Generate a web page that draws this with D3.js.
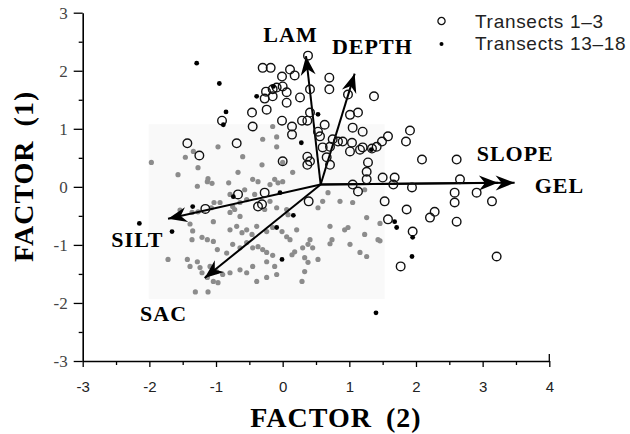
<!DOCTYPE html>
<html>
<head>
<meta charset="utf-8">
<script src="https://cdn.jsdelivr.net/npm/d3@7/dist/d3.min.js"></script>
<style>
  body { margin: 0; background: #fff; }
</style>
</head>
<body>
<div id="chrt"></div>
<script>
// axis ticks
const xTicks = [-3, -2, -1, 0, 1, 2, 3, 4];
const yTicks = [-3, -2, -1, 0, 1, 2, 3];
const xMinorTicks = [-2.5, -1.5, -0.5, 0.5, 1.5, 2.5, 3.5];
const yMinorTicks = [-2.5, -1.5, -0.5, 0.5, 1.5, 2.5];

// sample scores [factor2, factor1]
const transects1to3 = [
  [0.38, 2.26], [-0.30, 2.05], [-0.18, 2.05], [-0.01, 1.90], [0.11, 2.02], [0.18, 1.92], [0.00, 1.73],
  [-0.25, 1.64], [-0.15, 1.68], [-0.27, 1.52], [-0.15, 1.56], [0.06, 1.63], [0.26, 1.54], [-0.24, 1.33],
  [0.06, 1.45], [0.41, 1.68], [-0.46, 1.28], [-0.01, 1.14], [0.29, 1.14], [0.37, 1.14], [0.41, 1.28],
  [-0.45, 1.04], [0.14, 1.04], [0.14, 0.90], [-0.91, 1.14], [-0.69, 0.75], [-1.43, 0.75], [-1.25, 0.54],
  [0.37, 0.52], [0.37, 0.38], [0.53, 0.95], [-0.67, -0.13], [-0.27, -0.10], [-1.16, -0.38], [0.39, -0.25],
  [0.70, 1.88], [0.70, 1.68], [1.37, 1.56], [0.98, 1.59], [1.01, 1.24], [1.13, 1.28], [0.63, 1.07],
  [1.05, 1.02], [1.20, 0.95], [1.91, 0.97], [1.85, 0.78], [1.58, 0.87], [1.49, 0.78], [1.41, 0.69],
  [0.83, 0.78], [0.90, 0.78], [1.04, 0.76], [1.20, 0.68], [1.34, 0.66], [2.09, 0.47], [2.61, 0.47],
  [1.28, 0.42], [1.26, 0.26], [1.26, 0.13], [1.50, 0.16], [1.68, 0.16], [1.94, -0.01], [2.66, 0.13],
  [2.58, -0.10], [2.58, -0.27], [2.91, -0.10], [3.14, -0.25], [1.53, -0.25], [1.86, -0.39], [2.28, -0.43],
  [2.21, -0.53], [2.61, -0.60], [1.58, -0.56], [1.95, -0.77], [3.21, -1.20], [1.77, -1.37], [1.66, 0.04],
  [1.05, 0.04], [1.13, -0.08], [0.56, 0.87], [0.75, 0.82], [0.60, 0.68], [0.71, 0.69], [1.01, 0.61],
  [1.16, 0.64], [0.00, 0.44], [0.41, 0.44], [0.66, 0.51], [-0.09, 1.71], [0.71, 0.38], [-0.37, -0.34],
  [-0.31, -0.30]
];
const transects13to18 = [
  [-1.29, 2.13], [-0.95, 1.78], [-0.39, 1.56], [-0.85, 1.29], [-0.89, 1.07], [-0.14, 1.73], [0.53, 1.25],
  [0.28, 0.76], [1.33, 0.64], [-0.04, -0.10], [0.16, -0.49], [-0.09, -0.70], [-0.01, -1.25], [-2.15, -0.63],
  [-1.35, -0.34], [-1.66, -0.77], [1.68, -0.60], [1.71, -0.70], [1.95, -0.87], [1.94, -1.20], [1.40, -2.17],
  [-0.74, -0.17]
];
const otherTransects = [
  [-1.97, 0.42], [-1.57, 0.21], [-1.46, 0.51], [-1.34, 0.61], [-1.27, 0.33], [-1.13, 0.09], [-1.06, 0.06],
  [-1.12, 0.14], [-0.97, 0.69], [-0.81, 0.07], [-0.67, 0.25], [-0.60, 0.52], [-0.45, 0.13], [-0.37, 0.09],
  [-0.15, 1.04], [-0.09, 0.86], [-0.09, 0.69], [0.00, 0.42], [0.00, 0.09], [0.15, 0.25], [-0.12, 0.13],
  [-1.28, 0.01], [-1.03, -0.27], [-0.94, -0.27], [-1.07, -0.36], [-0.75, -0.34], [-0.64, -0.27], [-0.54, -0.22],
  [-1.36, -0.44], [-1.27, -0.43], [-0.79, -0.44], [-0.72, -0.39], [-0.64, -0.51], [-1.39, -0.64], [-1.35, -0.76],
  [-1.04, -0.60], [-0.79, -0.74], [-0.69, -0.68], [-0.61, -0.79], [-0.54, -0.74], [-0.46, -0.82], [-0.39, -0.68],
  [-1.36, -0.91], [-1.21, -0.87], [-1.13, -0.91], [-1.04, -0.94], [-0.98, -1.08], [-0.75, -0.99], [-0.64, -1.05],
  [-0.84, -1.14], [-0.54, -0.96], [-0.45, -1.05], [-1.72, -1.25], [-1.43, -1.25], [-1.39, -1.37], [-1.28, -1.29],
  [-1.24, -1.39], [-1.21, -1.48], [-1.09, -1.37], [-0.99, -1.46], [-0.90, -1.51], [-0.79, -1.48], [-0.64, -1.43],
  [-0.54, -1.48], [-0.45, -1.37], [-1.13, -1.56], [-1.04, -1.63], [-0.97, -1.65], [-1.31, -1.81], [-1.12, -1.81],
  [-0.37, -1.03], [-0.19, 0.04], [-0.07, 0.07], [-0.19, -0.25], [-0.09, -0.36], [-0.27, -0.39], [0.06, -0.39],
  [0.08, -0.48], [0.68, -0.10], [0.86, -0.25], [1.05, -0.27], [0.60, -0.25], [0.53, -0.36], [1.26, -0.53],
  [0.71, -0.68], [0.93, -0.74], [0.98, -0.70], [1.23, -0.82], [1.43, -0.91], [-0.24, -0.77], [-0.15, -0.70],
  [-0.01, -0.77], [0.21, -0.74], [0.06, -0.86], [0.11, -0.91], [0.41, -0.91], [0.38, -0.99], [0.74, -0.91],
  [0.71, -0.98], [1.01, -0.99], [0.30, -1.05], [0.45, -1.05], [-0.30, -1.08], [-0.24, -1.13], [-0.15, -1.18],
  [0.14, -1.17], [0.18, -1.12], [0.33, -1.22], [0.38, -1.30], [0.53, -1.25], [1.16, -1.13], [1.26, -1.20],
  [-0.24, -1.29], [-0.12, -1.37], [-0.24, -1.56], [-0.09, -1.51], [0.33, -1.46], [0.29, -1.63], [1.23, -0.05],
  [1.46, -0.63], [1.46, -0.93], [-0.39, -1.63], [-0.79, -0.13], [-0.57, -0.05], [-1.54, -0.40], [-0.42, -0.13],
  [-0.31, 0.38], [-0.30, 0.82]
];

// environmental vectors
const vectorOrigin = [0.57, 0.04];
const vectorNames = ['LAM', 'DEPTH', 'SLOPE', 'GEL', 'SILT', 'SAC'];
const vectorEnds = [[0.35, 2.25], [1.08, 1.95], [3.23, 0.07], [3.48, 0.07], [-1.72, -0.55], [-1.17, -1.57]];
const vectorLabelAt = [[-0.29, 2.49], [0.74, 2.28], [2.91, 0.44], [3.78, -0.10], [-2.57, -1.03], [-2.14, -2.31]];

const legendNames = ['Transects 1\u20133', 'Transects 13\u201318'];

const width = 630, height = 434;
const margin = { left: 82.7, right: 80.7, top: 12.7, bottom: 73 };
const serif = '"Liberation Serif", "Times New Roman", serif';
const sans = '"Liberation Sans", Arial, sans-serif';

const scaleX = d3.scaleLinear().domain([-3, 4]).range([margin.left, width - margin.right]);
const scaleY = d3.scaleLinear().domain([-3, 3]).range([height - margin.bottom, margin.top]);

const svg = d3.select('#chrt').append('svg')
    .attr('width', width)
    .attr('height', height)
    .style('display', 'block');

// faint scanned background patch
svg.append('rect')
    .attr('x', scaleX(-2.01))
    .attr('y', scaleY(1.08))
    .attr('width', scaleX(1.53) - scaleX(-2.01))
    .attr('height', scaleY(-1.93) - scaleY(1.08))
    .attr('fill', '#f9f9f9');

// axes
const xAxisG = svg.append('g')
    .attr('transform', 'translate(0,' + scaleY(-3) + ')')
    .call(d3.axisBottom(scaleX).tickValues(xTicks).tickSize(6).tickSizeOuter(0).tickFormat((d) => String(d)));
xAxisG.append('g').call(d3.axisBottom(scaleX).tickValues(xMinorTicks).tickSize(4).tickFormat(''))
    .select('.domain').remove();
xAxisG.selectAll('.tick text')
    .attr('y', 31).attr('dy', 0)
    .style('font-family', sans).style('font-size', '15px').style('fill', '#222');
xAxisG.append('line')
    .attr('x1', scaleX(4)).attr('x2', scaleX(4))
    .attr('y1', -7).attr('y2', 0)
    .attr('stroke', '#000').attr('stroke-width', 1.3);

const yAxisG = svg.append('g')
    .attr('transform', 'translate(' + scaleX(-3) + ',0)')
    .call(d3.axisLeft(scaleY).tickValues(yTicks).tickSize(9).tickSizeOuter(0).tickFormat((d) => String(d)));
yAxisG.append('g').call(d3.axisLeft(scaleY).tickValues(yMinorTicks).tickSize(4).tickFormat(''))
    .select('.domain').remove();
yAxisG.selectAll('.tick text')
    .attr('x', -15).attr('dy', '0.34em')
    .style('font-family', serif).style('font-size', '17px').style('fill', '#444');

svg.selectAll('.domain').attr('stroke', '#000').attr('stroke-width', 1.6);
svg.selectAll('.tick line').attr('stroke', '#000').attr('stroke-width', 1.3);

// axis titles
svg.append('text')
    .attr('x', scaleX(0.8))
    .attr('y', 427)
    .attr('text-anchor', 'middle')
    .style('font-family', serif).style('font-weight', 'bold').style('font-size', '28px')
    .style('letter-spacing', '1px').style('word-spacing', '6px')
    .text('FACTOR (2)');
svg.append('text')
    .attr('transform', 'translate(33,' + scaleY(0.18) + ') rotate(-90)')
    .attr('text-anchor', 'middle')
    .style('font-family', serif).style('font-weight', 'bold').style('font-size', '28px')
    .style('letter-spacing', '1px').style('word-spacing', '6px')
    .text('FACTOR (1)');

// gray points (unlisted transects)
svg.append('g').selectAll('circle')
    .data(otherTransects)
    .enter().append('circle')
    .attr('cx', (d) => scaleX(d[0]))
    .attr('cy', (d) => scaleY(d[1]))
    .attr('r', 2.6)
    .attr('fill', '#8c8c8c');

// arrow head
svg.append('defs').append('marker')
    .attr('id', 'arrowHead')
    .attr('viewBox', '-20 -8 21 16')
    .attr('refX', 0).attr('refY', 0)
    .attr('markerUnits', 'userSpaceOnUse')
    .attr('markerWidth', 21).attr('markerHeight', 16)
    .attr('orient', 'auto')
    .append('path')
    .attr('d', 'M0,0L-19,-7.5L-13,0L-19,7.5Z')
    .attr('fill', '#000');

svg.append('g').selectAll('line')
    .data(vectorEnds)
    .enter().append('line')
    .attr('x1', scaleX(vectorOrigin[0]))
    .attr('y1', scaleY(vectorOrigin[1]))
    .attr('x2', (d) => scaleX(d[0]))
    .attr('y2', (d) => scaleY(d[1]))
    .attr('stroke', '#000')
    .attr('stroke-width', 2)
    .attr('marker-end', 'url(#arrowHead)');

svg.append('g').selectAll('text')
    .data(vectorNames)
    .enter().append('text')
    .attr('x', (d, i) => scaleX(vectorLabelAt[i][0]))
    .attr('y', (d, i) => scaleY(vectorLabelAt[i][1]))
    .style('font-family', serif).style('font-weight', 'bold').style('font-size', '22px')
    .style('letter-spacing', '1px')
    .text((d) => d);

// transects 1-3: open circles
svg.append('g').selectAll('circle')
    .data(transects1to3)
    .enter().append('circle')
    .attr('cx', (d) => scaleX(d[0]))
    .attr('cy', (d) => scaleY(d[1]))
    .attr('r', 4.3)
    .attr('fill', 'none')
    .attr('stroke', '#111')
    .attr('stroke-width', 1.4);

// transects 13-18: small black dots
svg.append('g').selectAll('circle')
    .data(transects13to18)
    .enter().append('circle')
    .attr('cx', (d) => scaleX(d[0]))
    .attr('cy', (d) => scaleY(d[1]))
    .attr('r', 2.4)
    .attr('fill', '#000');

// legend
const legend = svg.append('g').attr('transform', 'translate(441.5,21)');
legend.append('circle').attr('cx', 0).attr('cy', 0).attr('r', 3.6)
    .attr('fill', 'none').attr('stroke', '#111').attr('stroke-width', 1.3);
legend.append('circle').attr('cx', 0).attr('cy', 23).attr('r', 2)
    .attr('fill', '#000');
legend.selectAll('text')
    .data(legendNames)
    .enter().append('text')
    .attr('x', 33.5)
    .attr('y', (d, i) => 7.3 + i * 21.7)
    .style('font-family', sans).style('font-size', '19px').style('letter-spacing', '0.7px')
    .style('fill', '#222')
    .text((d) => d);
</script>
</body>
</html>
